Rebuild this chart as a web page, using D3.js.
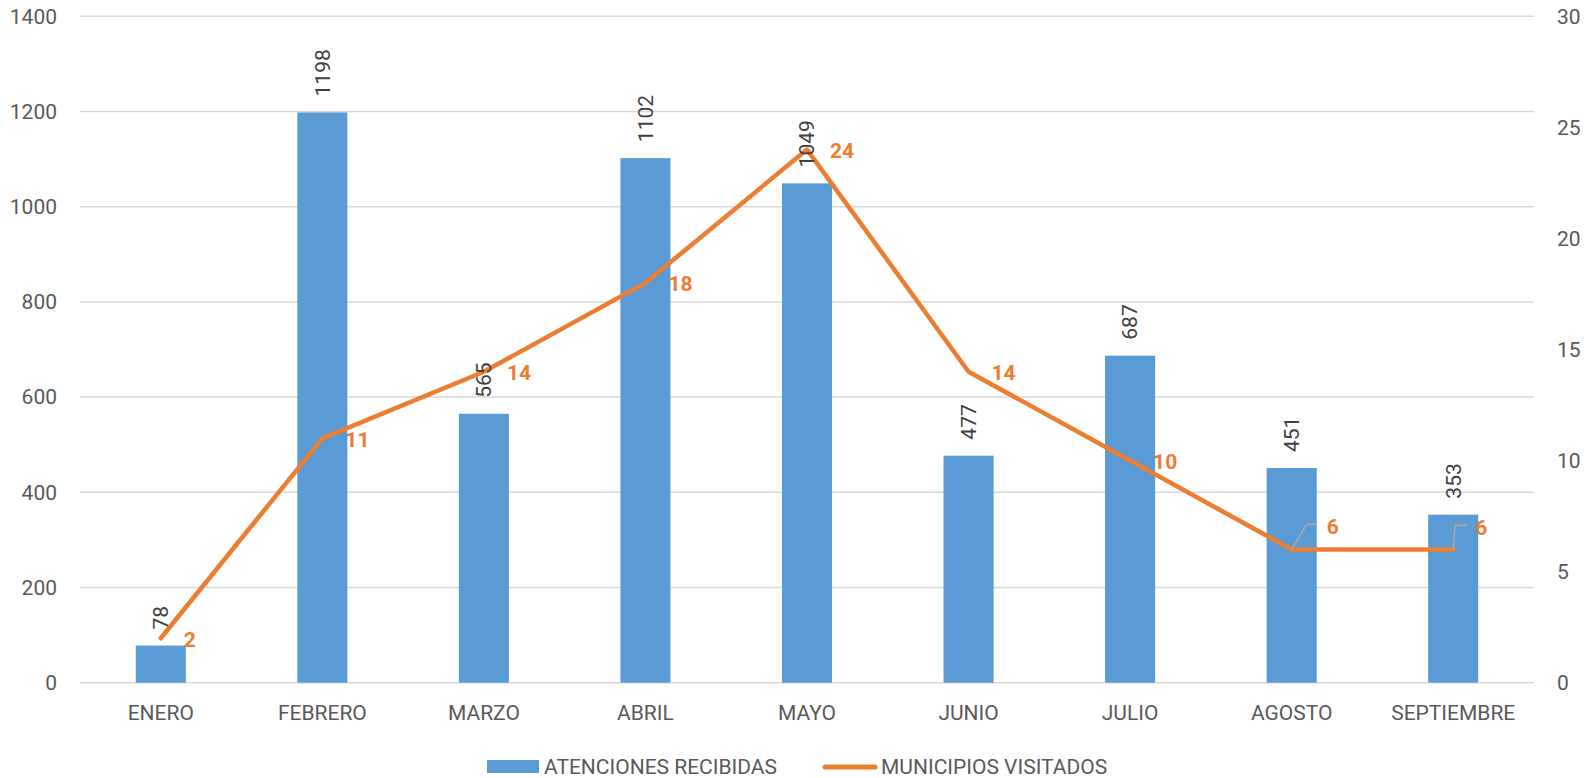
<!DOCTYPE html>
<html>
<head>
<meta charset="utf-8">
<script src="https://cdn.jsdelivr.net/npm/d3@7"></script>
<style>
  html, body { margin: 0; padding: 0; background: #ffffff; }
  svg { display: block; font-family: Roboto, "Liberation Sans", sans-serif; }
</style>
</head>
<body>
<svg id="chart" width="1594" height="778"></svg>
<script>
// Monthly data
const months = ["ENERO", "FEBRERO", "MARZO", "ABRIL", "MAYO", "JUNIO", "JULIO", "AGOSTO", "SEPTIEMBRE"];
const atenciones = [78, 1198, 565, 1102, 1049, 477, 687, 451, 353];
const municipios = [2, 11, 14, 18, 24, 14, 10, 6, 6];

const leftTicks = [0, 200, 400, 600, 800, 1000, 1200, 1400];
const rightTicks = [0, 5, 10, 15, 20, 25, 30];

const seriesNames = ["ATENCIONES RECIBIDAS", "MUNICIPIOS VISITADOS"];

const BLUE = "#5B9BD5";
const ORANGE = "#ED7D31";
const GRID = "#D9D9D9";
const AXIS_TEXT = "#595959";
const LABEL_TEXT = "#404040";
const FONT_SIZE = 21;

const plot = { left: 80, right: 1534, top: 16.3, bottom: 682.7 };

const svg = d3.select("#chart");

const x = d3.scaleBand()
  .domain(months)
  .range([plot.left, plot.right])
  .paddingInner(0.69)
  .paddingOuter(0.345);

const yLeft = d3.scaleLinear().domain([0, 1400]).range([plot.bottom, plot.top]);
const yRight = d3.scaleLinear().domain([0, 30]).range([plot.bottom, plot.top]);

// Horizontal gridlines
svg.append("g")
  .selectAll("line")
  .data(leftTicks)
  .join("line")
  .attr("x1", plot.left)
  .attr("x2", plot.right)
  .attr("y1", d => yLeft(d))
  .attr("y2", d => yLeft(d))
  .attr("stroke", GRID)
  .attr("stroke-width", 1.5);

function styleAxisText(g) {
  g.select(".domain").remove();
  g.selectAll("text")
    .attr("font-size", FONT_SIZE)
    .attr("fill", AXIS_TEXT)
    .attr("font-family", "Roboto, sans-serif");
}

// Left axis labels
const leftAxis = d3.axisLeft(yLeft).tickValues(leftTicks).tickFormat(d3.format("d")).tickSize(0).tickPadding(0);
svg.append("g")
  .attr("transform", `translate(${plot.left - 23},0)`)
  .call(leftAxis)
  .call(styleAxisText);

// Right axis labels
const rightAxis = d3.axisRight(yRight).tickValues(rightTicks).tickFormat(d3.format("d")).tickSize(0).tickPadding(0);
svg.append("g")
  .attr("transform", `translate(${plot.right + 23},0)`)
  .call(rightAxis)
  .call(styleAxisText);

// Category axis labels
const bottomAxis = d3.axisBottom(x).tickSize(0).tickPadding(0);
svg.append("g")
  .attr("transform", `translate(0,${plot.bottom + 22})`)
  .call(bottomAxis)
  .call(styleAxisText);

// Bars
svg.append("g")
  .selectAll("rect")
  .data(months)
  .join("rect")
  .attr("x", d => x(d))
  .attr("width", x.bandwidth())
  .attr("y", (d, i) => yLeft(atenciones[i]))
  .attr("height", (d, i) => plot.bottom - yLeft(atenciones[i]))
  .attr("fill", BLUE);

// Line
const lineGen = d3.line()
  .x((d, i) => x(months[i]) + x.bandwidth() / 2)
  .y(d => yRight(d));

svg.append("path")
  .datum(municipios)
  .attr("d", lineGen)
  .attr("fill", "none")
  .attr("stroke", ORANGE)
  .attr("stroke-width", 4.5)
  .attr("stroke-linejoin", "round")
  .attr("stroke-linecap", "round");

// Bar value labels (rotated)
svg.append("g")
  .selectAll("text")
  .data(months)
  .join("text")
  .attr("transform", (d, i) => {
    const cx = x(d) + x.bandwidth() / 2;
    const cy = yLeft(atenciones[i]) - 16;
    return `translate(${cx},${cy}) rotate(-90)`;
  })
  .attr("dy", "0.35em")
  .attr("text-anchor", "start")
  .attr("font-size", FONT_SIZE)
  .attr("fill", LABEL_TEXT)
  .text((d, i) => atenciones[i]);

// Line value labels; the last two sit above their points with a leader line
const leaderPlacement = {
  "AGOSTO": { elbowDx: 15, elbowDy: -25, endDx: 25, labelDx: 35 },
  "SEPTIEMBRE": { elbowDx: 2, elbowDy: -24, endDx: 14, labelDx: 22 }
};

const lineLabels = svg.append("g");
months.forEach((m, i) => {
  const px = x(m) + x.bandwidth() / 2;
  const py = yRight(municipios[i]);
  const lp = leaderPlacement[m];
  if (lp) {
    lineLabels.append("polyline")
      .attr("points", `${px},${py} ${px + lp.elbowDx},${py + lp.elbowDy} ${px + lp.endDx},${py + lp.elbowDy}`)
      .attr("fill", "none")
      .attr("stroke", "#A6A6A6")
      .attr("stroke-width", 1.6);
    lineLabels.append("text")
      .attr("x", px + lp.labelDx)
      .attr("y", py + lp.elbowDy + 2)
      .attr("dy", "0.35em")
      .attr("font-size", FONT_SIZE)
      .attr("font-weight", "bold")
      .attr("fill", ORANGE)
      .text(municipios[i]);
  } else {
    lineLabels.append("text")
      .attr("x", px + 23)
      .attr("y", py + 1)
      .attr("dy", "0.35em")
      .attr("font-size", FONT_SIZE)
      .attr("font-weight", "bold")
      .attr("fill", ORANGE)
      .text(municipios[i]);
  }
});

// Legend
const legend = svg.append("g");
legend.append("rect")
  .attr("x", 487).attr("y", 760)
  .attr("width", 52).attr("height", 13)
  .attr("fill", BLUE);
legend.append("text")
  .attr("x", 544).attr("y", 767)
  .attr("dy", "0.35em")
  .attr("font-size", FONT_SIZE)
  .attr("fill", AXIS_TEXT)
  .text(seriesNames[0]);
legend.append("line")
  .attr("x1", 825).attr("x2", 875)
  .attr("y1", 767).attr("y2", 767)
  .attr("stroke", ORANGE)
  .attr("stroke-width", 5)
  .attr("stroke-linecap", "round");
legend.append("text")
  .attr("x", 881).attr("y", 767)
  .attr("dy", "0.35em")
  .attr("font-size", FONT_SIZE)
  .attr("fill", AXIS_TEXT)
  .text(seriesNames[1]);
</script>
</body>
</html>
